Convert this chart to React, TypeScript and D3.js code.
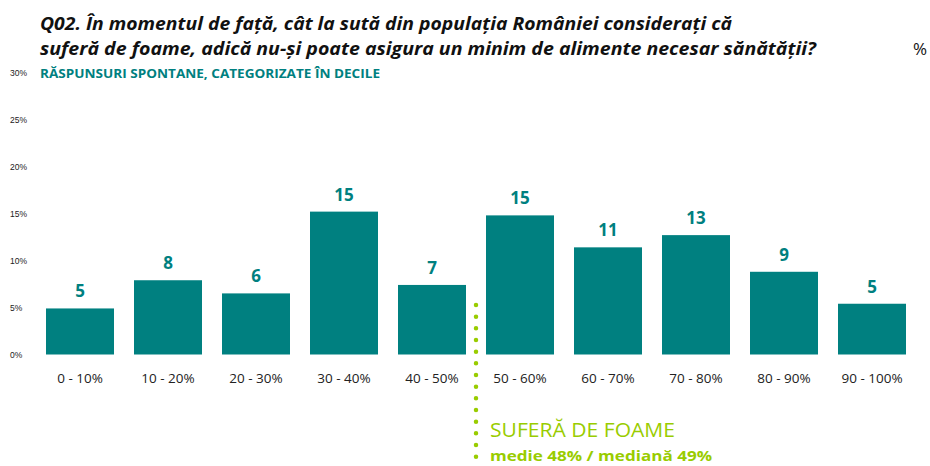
import React from "react";
import * as d3 from "d3";

const categories = ["0 - 10%", "10 - 20%", "20 - 30%", "30 - 40%", "40 - 50%", "50 - 60%", "60 - 70%", "70 - 80%", "80 - 90%", "90 - 100%"];
const values = [4.9, 7.9, 6.5, 15.2, 7.4, 14.8, 11.4, 12.7, 8.8, 5.4];
const shownLabels = ["5", "8", "6", "15", "7", "15", "11", "13", "9", "5"];
const yTicks = [0, 5, 10, 15, 20, 25, 30];

const titleLines = [
  "Q02. În momentul de față, cât la sută din populația României considerați că",
  "suferă de foame, adică nu-și poate asigura un minim de alimente necesar sănătății?",
];
const subtitle = "RĂSPUNSURI SPONTANE, CATEGORIZATE ÎN DECILE";
const markerTitle = "SUFERĂ DE FOAME";
const markerText = "medie 48% / mediană 49%";

const TEAL = "#008080";
const LIME = "#99cc00";
const FONT = "'Open Sans', 'DejaVu Sans', sans-serif";

export default function App() {
  const width = 930;
  const height = 466;

  const x = d3
    .scaleBand<string>()
    .domain(categories)
    .range([36, 916])
    .paddingInner(20 / 88)
    .paddingOuter(10 / 88);

  const y = d3.scaleLinear().domain([0, 30]).range([354.5, 72.5]);

  // marker sits in the gap between the 40-50 and 50-60 bars
  const gapX = (x("40 - 50%")! + x.bandwidth() + x("50 - 60%")!) / 2;

  return (
    <svg width={width} height={height} style={{ position: "absolute", left: 0, top: 0 }}>
      <rect width={width} height={height} fill="#fff" />
      {titleLines.map((t, i) => (
        <text
          key={i}
          x={40}
          y={30 + i * 25}
          fontFamily={FONT}
          fontSize={18}
          fontWeight="bold"
          fontStyle="italic"
          fill="#111"
          textLength={i === 0 ? 692 : 776}
          lengthAdjust="spacingAndGlyphs"
        >
          {t}
        </text>
      ))}
      <text x={913} y={55} fontFamily={FONT} fontSize={17} fill="#111">
        %
      </text>
      <text
        x={40}
        y={78}
        fontFamily={FONT}
        fontSize={12.5}
        fontWeight="bold"
        fill={TEAL}
        textLength={340}
        lengthAdjust="spacingAndGlyphs"
      >
        {subtitle}
      </text>

      {yTicks.map((t) => (
        <text key={t} x={10} y={y(t) + 3} fontFamily="'Liberation Sans', Arial, sans-serif" fontSize={8.5} fill="#222">
          {t + "%"}
        </text>
      ))}

      {categories.map((c, i) => (
        <g key={c}>
          <rect x={x(c)} y={y(values[i])} width={x.bandwidth()} height={y(0) - y(values[i])} fill={TEAL} />
          <text
            x={x(c)! + x.bandwidth() / 2}
            y={y(values[i]) - 11}
            textAnchor="middle"
            fontFamily={FONT}
            fontSize={17}
            fontWeight="bold"
            fill={TEAL}
          >
            {shownLabels[i]}
          </text>
          <text
            x={x(c)! + x.bandwidth() / 2}
            y={383}
            textAnchor="middle"
            fontFamily={FONT}
            fontSize={13.5}
            fill="#222"
          >
            {c}
          </text>
        </g>
      ))}

      <line
        x1={gapX}
        x2={gapX}
        y1={305}
        y2={470}
        stroke={LIME}
        strokeWidth={4.5}
        strokeLinecap="round"
        strokeDasharray="0 11.67"
      />
      <text x={490} y={437} fontFamily={FONT} fontSize={20.5} fill={LIME} textLength={185} lengthAdjust="spacingAndGlyphs">
        {markerTitle}
      </text>
      <text x={490} y={461} fontFamily={FONT} fontSize={15} fontWeight="bold" fill={LIME} textLength={222} lengthAdjust="spacingAndGlyphs">
        {markerText}
      </text>
    </svg>
  );
}
